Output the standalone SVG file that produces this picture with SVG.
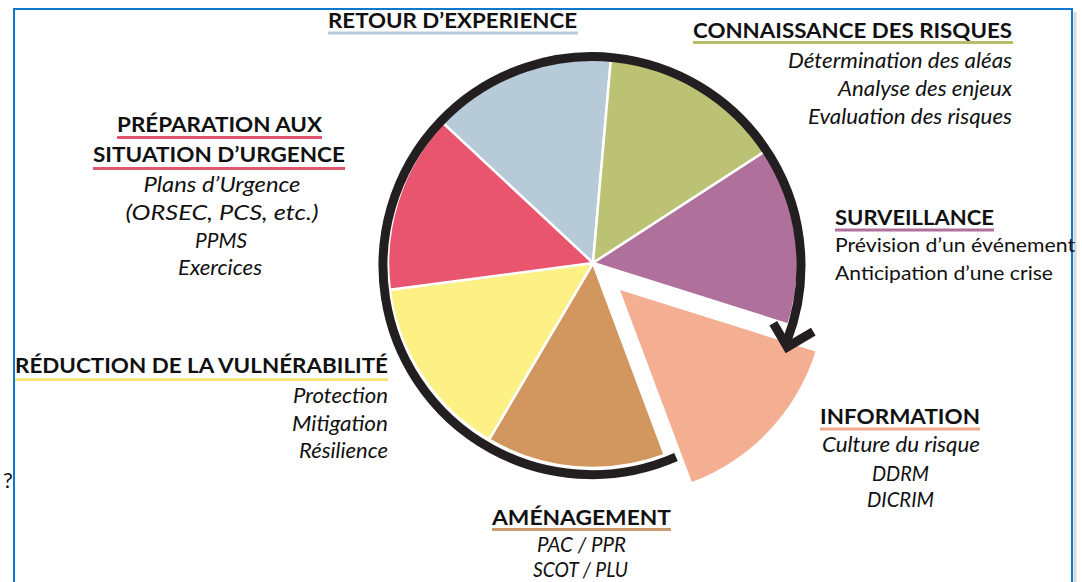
<svg xmlns="http://www.w3.org/2000/svg" width="1082" height="582" viewBox="0 0 1082 582">
<style>
text{font-family:Lato,"Open Sans","Liberation Sans",sans-serif;fill:#111}
.h{font-size:21px;font-weight:bold}
.i{font-size:20.5px;font-style:italic}
.r{font-size:20px}
.ul{stroke-width:3;fill:none}
.sl{stroke:#fff;stroke-width:2.5;stroke-linejoin:round}
.ring{fill:none;stroke:#231f20;stroke-width:9;stroke-linecap:butt}
</style>
<rect width="1082" height="582" fill="#fff"/>
<g id="frame">
<path d="M1075,12 L1075,582" stroke="#d8d8d8" stroke-width="3" fill="none"/>
<path d="M14,582 L14,9 L1072,9 L1072,582" stroke="#0b79d0" stroke-width="2" fill="none"/>
</g>
<g id="pie">
<path id="s-retour" class="sl" fill="#b6cad8" d="M593,263 L443.1,123.2 A205,205 0 0 1 610.9,58.8 Z"/>
<path id="s-connaissance" class="sl" fill="#bcc274" d="M593,263 L610.9,58.8 A205,205 0 0 1 764.9,151.4 Z"/>
<path id="s-surveillance" class="sl" fill="#b0709c" d="M593,263 L764.9,151.4 A205,205 0 0 1 788.5,324.6 Z"/>
<path id="s-information" fill="#f4af93" d="M620,290 L815.5,351.6 A205,205 0 0 1 691.8,482 Z"/>
<path id="s-amenagement" class="sl" fill="#d2965f" d="M593,263 L664.8,455 A205,205 0 0 1 489,439.6 Z"/>
<path id="s-reduction" class="sl" fill="#fdf084" d="M593,263 L489,439.6 A205,205 0 0 1 389.8,289.8 Z"/>
<path id="s-preparation" class="sl" fill="#e9546f" d="M593,263 L389.8,289.8 A205,205 0 0 1 443.1,123.2 Z"/>
</g>
<g id="connectors">
<path class="ring" d="M676,457 A209,209 0 1 1 786.8,341.3"/>
<path class="ring" stroke-linejoin="miter" d="M773.3,323.3 L787.3,347 L813.3,331.7"/>
</g>
<g id="n-retour">
<text class="h" x="328" y="28" textLength="249" lengthAdjust="spacingAndGlyphs">RETOUR D’EXPERIENCE</text>
<line class="ul" stroke="#b8cbd8" x1="328" y1="33" x2="578" y2="33"/>
</g>
<g id="n-connaissance">
<text class="h" x="693" y="38" textLength="319" lengthAdjust="spacingAndGlyphs">CONNAISSANCE DES RISQUES</text>
<line class="ul" stroke="#b5bd6a" x1="693" y1="42.5" x2="1013" y2="42.5"/>
<text class="i" x="1012" y="68" text-anchor="end" textLength="224" lengthAdjust="spacingAndGlyphs">Détermination des aléas</text>
<text class="i" x="1012" y="96" text-anchor="end" textLength="174" lengthAdjust="spacingAndGlyphs">Analyse des enjeux</text>
<text class="i" x="1012" y="124" text-anchor="end" textLength="204" lengthAdjust="spacingAndGlyphs">Evaluation des risques</text>
</g>
<g id="n-surveillance">
<text class="h" x="835" y="225" textLength="159" lengthAdjust="spacingAndGlyphs">SURVEILLANCE</text>
<line class="ul" stroke="#b0709c" x1="835" y1="230" x2="994" y2="230"/>
<text class="r" x="835" y="252" textLength="240" lengthAdjust="spacingAndGlyphs">Prévision d’un événement</text>
<text class="r" x="835" y="280" textLength="218" lengthAdjust="spacingAndGlyphs">Anticipation d’une crise</text>
</g>
<g id="n-information">
<text class="h" x="820" y="424" textLength="160" lengthAdjust="spacingAndGlyphs">INFORMATION</text>
<line class="ul" stroke="#f0a98a" x1="820" y1="429" x2="980" y2="429"/>
<text class="i" x="901" y="452" text-anchor="middle" textLength="158" lengthAdjust="spacingAndGlyphs">Culture du risque</text>
<text class="i" x="900.5" y="481" text-anchor="middle" textLength="57" lengthAdjust="spacingAndGlyphs">DDRM</text>
<text class="i" x="900.5" y="507" text-anchor="middle" textLength="67" lengthAdjust="spacingAndGlyphs">DICRIM</text>
</g>
<g id="n-amenagement">
<text class="h" x="492" y="525" textLength="179" lengthAdjust="spacingAndGlyphs">AMÉNAGEMENT</text>
<line class="ul" stroke="#c99a6e" x1="492" y1="529.5" x2="671" y2="529.5"/>
<text class="i" x="581.5" y="552" text-anchor="middle" textLength="89" lengthAdjust="spacingAndGlyphs">PAC / PPR</text>
<text class="i" x="580.5" y="577" text-anchor="middle" textLength="95" lengthAdjust="spacingAndGlyphs">SCOT / PLU</text>
</g>
<g id="n-reduction">
<text class="h" x="15" y="373" textLength="373" lengthAdjust="spacingAndGlyphs">RÉDUCTION DE LA VULNÉRABILITÉ</text>
<line class="ul" stroke="#f9e67a" x1="15" y1="379.5" x2="388" y2="379.5"/>
<text class="i" x="388" y="403" text-anchor="end" textLength="95" lengthAdjust="spacingAndGlyphs">Protection</text>
<text class="i" x="388" y="431" text-anchor="end" textLength="96" lengthAdjust="spacingAndGlyphs">Mitigation</text>
<text class="i" x="388" y="458" text-anchor="end" textLength="89" lengthAdjust="spacingAndGlyphs">Résilience</text>
</g>
<g id="n-preparation">
<text class="h" x="117" y="132" textLength="205" lengthAdjust="spacingAndGlyphs">PRÉPARATION AUX</text>
<line class="ul" stroke="#e0566f" x1="117" y1="137.5" x2="322" y2="137.5"/>
<text class="h" x="93" y="162" textLength="252" lengthAdjust="spacingAndGlyphs">SITUATION D’URGENCE</text>
<line class="ul" stroke="#e0566f" x1="93" y1="168.5" x2="345" y2="168.5"/>
<text class="i" x="222" y="192" text-anchor="middle" textLength="157" lengthAdjust="spacingAndGlyphs">Plans d’Urgence</text>
<text class="i" x="222" y="220" text-anchor="middle" textLength="193" lengthAdjust="spacingAndGlyphs">(ORSEC, PCS, etc.)</text>
<text class="i" x="221" y="248" text-anchor="middle" textLength="52" lengthAdjust="spacingAndGlyphs">PPMS</text>
<text class="i" x="220" y="275" text-anchor="middle" textLength="84" lengthAdjust="spacingAndGlyphs">Exercices</text>
</g>
<text x="3" y="488" font-size="22" font-family="'Open Sans','Liberation Sans',sans-serif">?</text>
</svg>
